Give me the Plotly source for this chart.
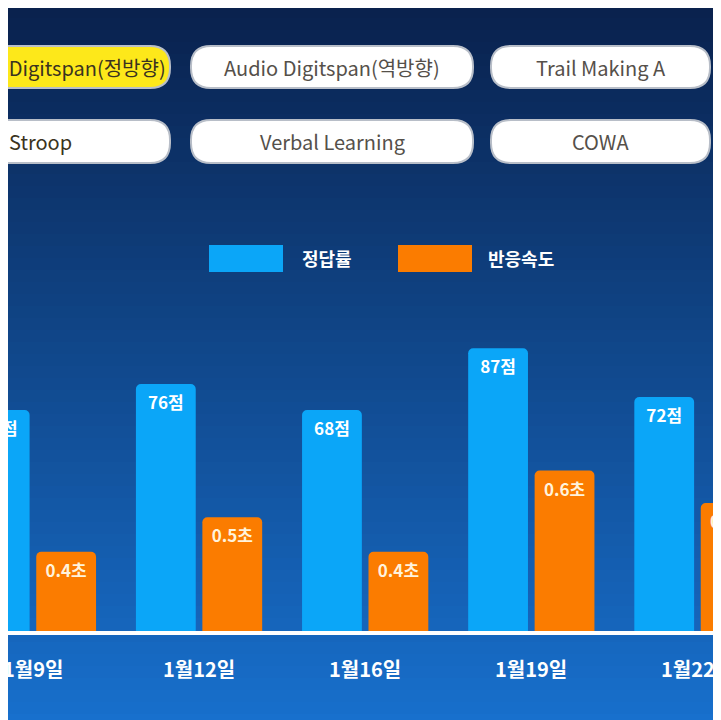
import plotly.graph_objects as go

dates = ["1월9일", "1월12일", "1월16일", "1월19일", "1월22일"]
accuracy = [68, 76, 68, 87, 72]
accuracy_text = ["68점", "76점", "68점", "87점", "72점"]
response = [0.39, 0.56, 0.39, 0.79, 0.63]
response_text = ["0.4초", "0.5초", "0.4초", "0.6초", "0.5초"]
buttons = [
    ["Audio Digitspan(정방향)", "Audio Digitspan(역방향)", "Trail Making A"],
    ["Stroop", "Verbal Learning", "COWA"],
]
legend_names = ["정답률", "반응속도"]

BLUE = "#0ba6f8"
ORANGE = "#fb7c00"
W, H = 721, 720
T_M, B_M = 298, 97
FONT = "Noto Sans CJK KR"

fig = go.Figure()
fig.add_trace(go.Bar(
    x=list(range(len(dates))), y=accuracy, text=accuracy_text, name=legend_names[0],
    marker=dict(color=BLUE, cornerradius=5, line_width=0), offsetgroup="a",
    textposition="inside", insidetextanchor="end",
    textfont=dict(color="white", size=17, family=FONT, weight="bold"),
))
fig.add_trace(go.Bar(
    x=list(range(len(dates))), y=response, text=response_text, name=legend_names[1],
    marker=dict(color=ORANGE, cornerradius=5, line_width=0), offsetgroup="b", yaxis="y2",
    textposition="inside", insidetextanchor="end",
    textfont=dict(color="#fff3dc", size=17, family=FONT, weight="bold"),
))


def py(p):
    # pixel row -> paper y
    return (H - B_M - p) / (H - T_M - B_M)


# background gradient over the whole figure
shapes = []
n = 60
top, bot = (10, 34, 78), (24, 112, 205)
for i in range(n):
    t = i / (n - 1)
    c = tuple(int(top[k] + (bot[k] - top[k]) * t) for k in range(3))
    shapes.append(dict(type="rect", xref="paper", yref="paper", layer="below",
                       x0=-0.1, x1=1.1, y0=py(H * (i + 1) / n + 2), y1=py(H * i / n - 2),
                       fillcolor="rgb(%d,%d,%d)" % c, line_width=0))


def rrect(x0, x1, y0, y1, r, fill):
    ya, yb = py(y1), py(y0)
    rx = r / W
    ry = r / (H - T_M - B_M)
    xa, xb = x0 / W, x1 / W
    path = (f"M{xa+rx},{ya} L{xb-rx},{ya} Q{xb},{ya} {xb},{ya+ry} L{xb},{yb-ry} "
            f"Q{xb},{yb} {xb-rx},{yb} L{xa+rx},{yb} Q{xa},{yb} {xa},{yb-ry} "
            f"L{xa},{ya+ry} Q{xa},{ya} {xa+rx},{ya} Z")
    return dict(type="path", xref="paper", yref="paper", path=path, fillcolor=fill,
                line=dict(color="#b8bec8", width=2))


annotations = []
btn_x = [(-120, 162), (183, 465), (483, 702)]
btn_y = [(38, 80), (112, 155)]
for r, row in enumerate(buttons):
    for c, label in enumerate(row):
        x0, x1 = btn_x[c]
        y0, y1 = btn_y[r]
        fill = "#fde81a" if (r == 0 and c == 0) else "white"
        shapes.append(rrect(x0, x1, y0, y1, 20, fill))
        if c == 0:
            xa, anchor = (160 if r == 0 else 66) / W, "right"
        else:
            xa, anchor = (x0 + x1) / 2 / W, "center"
        annotations.append(dict(x=xa, y=py((y0 + y1) / 2), xref="paper", yref="paper",
                                text=label, showarrow=False, xanchor=anchor, yanchor="middle",
                                font=dict(size=20, color="#55504a" if c else "#3a3320", family=FONT)))

for (x0, x1, col, tx), name in zip([(201, 275, BLUE, 292), (390, 464, ORANGE, 478)], legend_names):
    shapes.append(dict(type="rect", xref="paper", yref="paper",
                       x0=x0 / W, x1=x1 / W, y0=py(264), y1=py(237),
                       fillcolor=col, line_width=0))
    annotations.append(dict(x=tx / W, y=py(250), xref="paper", yref="paper",
                            text=name, showarrow=False, xanchor="left", yanchor="middle",
                            font=dict(size=18, color="white", family=FONT, weight="bold")))

# category labels as annotations so edge labels are allowed to be cut
for i, d in enumerate(dates):
    annotations.append(dict(x=i, y=py(660), xref="x", yref="paper", text=d,
                            showarrow=False, xanchor="center", yanchor="middle",
                            font=dict(size=20, color="white", family=FONT, weight="bold")))

fig.update_layout(
    width=W, height=H, margin=dict(l=0, r=0, t=T_M, b=B_M),
    paper_bgcolor="#0c3f86", plot_bgcolor="rgba(0,0,0,0)",
    showlegend=False, barmode="group", bargap=0.2, bargroupgap=0.1,
    shapes=shapes, annotations=annotations,
    xaxis=dict(range=[-0.15, 4.19], showticklabels=False,
               showline=True, linecolor="white", linewidth=4, showgrid=False,
               ticks="", zeroline=False),
    yaxis=dict(range=[0, 100], visible=False, showgrid=False),
    yaxis2=dict(range=[0, 1.6], overlaying="y", visible=False, showgrid=False),
    uniformtext=dict(minsize=10, mode="show"),
)

fig.write_html("out.html")
